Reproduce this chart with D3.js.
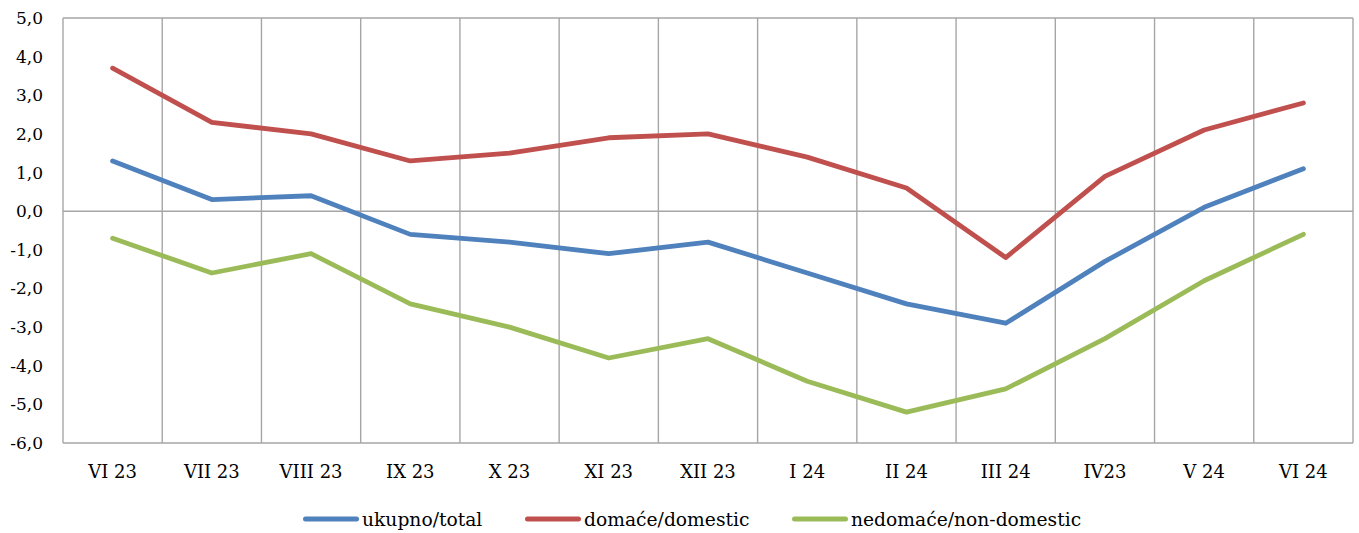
<!DOCTYPE html>
<head>
  <meta charset="utf-8">
  <script src="https://d3js.org/d3.v7.min.js"></script>
  <style>
    body { margin:0; background:#fff; }
    text { font-family: "DejaVu Serif", serif; fill:#000; }
    .grid line { stroke:#a6a6a6; stroke-width:1.4px; }
    .series { fill:none; stroke-width:4.8px; stroke-linejoin:round; stroke-linecap:round; }
  </style>
</head>
<body>
<script>
  // categories and values
  var months = ["VI 23","VII 23","VIII 23","IX 23","X 23","XI 23","XII 23","I 24","II 24","III 24","IV23","V 24","VI 24"];
  var total = [1.3, 0.3, 0.4, -0.6, -0.8, -1.1, -0.8, -1.6, -2.4, -2.9, -1.3, 0.1, 1.1];
  var domestic = [3.7, 2.3, 2.0, 1.3, 1.5, 1.9, 2.0, 1.4, 0.6, -1.2, 0.9, 2.1, 2.8];
  var nonDomestic = [-0.7, -1.6, -1.1, -2.4, -3.0, -3.8, -3.3, -4.4, -5.2, -4.6, -3.3, -1.8, -0.6];
  var yTicks = [5, 4, 3, 2, 1, 0, -1, -2, -3, -4, -5, -6];
  var seriesNames = ["ukupno/total", "domaće/domestic", "nedomaće/non-domestic"];
  var colors = ["#4f81bd", "#c0504d", "#9bbb59"];

  var W = 1359, H = 533;
  var margin = {top: 18, right: 6, bottom: 90, left: 63};
  var width = W - margin.left - margin.right,
      height = H - margin.top - margin.bottom;

  var svg = d3.select("body").append("svg")
      .attr("width", W)
      .attr("height", H);
  var g = svg.append("g")
      .attr("transform", "translate(" + margin.left + "," + margin.top + ")");

  var x = d3.scaleBand().domain(months).range([0, width]);
  var y = d3.scaleLinear().domain([-6, 5]).range([height, 0]);

  // vertical grid at category boundaries + frame
  var grid = g.append("g").attr("class", "grid");
  var bounds = months.map(function(m) { return x(m); }).concat([width]);
  grid.selectAll("line.v").data(bounds).enter().append("line")
      .attr("class", "v")
      .attr("x1", function(d) { return d; }).attr("x2", function(d) { return d; })
      .attr("y1", 0).attr("y2", height);
  grid.selectAll("line.h").data([5, 0, -6]).enter().append("line")
      .attr("class", "h")
      .attr("x1", 0).attr("x2", width)
      .attr("y1", function(d) { return y(d); }).attr("y2", function(d) { return y(d); });

  // y axis labels
  var fmt = function(d) { return d3.format(".1f")(d).replace(".", ",").replace("−", "-"); };
  g.selectAll("text.ytick").data(yTicks).enter().append("text")
      .attr("class", "ytick")
      .attr("x", -20)
      .attr("y", function(d) { return y(d) + 6; })
      .attr("text-anchor", "end")
      .style("font-size", "17px")
      .text(fmt);

  // x axis labels
  g.selectAll("text.xtick").data(months).enter().append("text")
      .attr("class", "xtick")
      .attr("x", function(d) { return x(d) + x.bandwidth() / 2; })
      .attr("y", height + 35)
      .attr("text-anchor", "middle")
      .style("font-size", "18px")
      .text(function(d) { return d; });

  var line = d3.line()
      .x(function(d, i) { return x(months[i]) + x.bandwidth() / 2; })
      .y(function(d) { return y(d); });

  var data = [total, domestic, nonDomestic];
  g.selectAll("path.series").data(data).enter().append("path")
      .attr("class", "series")
      .attr("stroke", function(d, i) { return colors[i]; })
      .attr("d", line);

  // legend
  var legX = [303, 525, 792];
  var leg = svg.selectAll("g.leg").data(seriesNames).enter().append("g")
      .attr("class", "leg")
      .attr("transform", function(d, i) { return "translate(" + legX[i] + ",519)"; });
  leg.append("line")
      .attr("x1", 2.5).attr("x2", 53.5).attr("y1", 0).attr("y2", 0)
      .attr("stroke", function(d, i) { return colors[i]; })
      .attr("stroke-width", 5)
      .attr("stroke-linecap", "round");
  leg.append("text")
      .attr("x", 59)
      .attr("y", 6.5)
      .style("font-size", "18.7px")
      .text(function(d) { return d; });
</script>
</body>
